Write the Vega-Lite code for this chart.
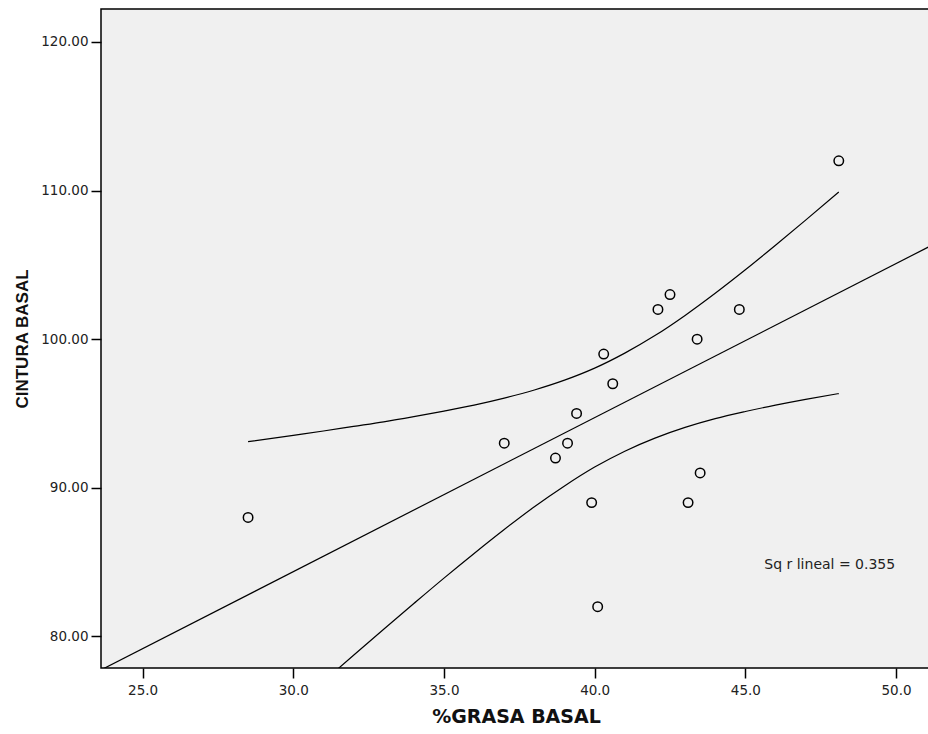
{
  "$schema": "https://vega.github.io/schema/vega-lite/v6.json",
  "width": 830,
  "height": 659,
  "autosize": {"type": "none"},
  "padding": {"left": 101, "top": 9, "right": 0, "bottom": 66},
  "background": "white",
  "config": {
    "font": "DejaVu Sans",
    "view": {"fill": "#f0f0f0", "stroke": "#000000", "strokeWidth": 1.5},
    "axis": {
      "domain": false,
      "grid": false,
      "ticks": true,
      "tickColor": "#000000",
      "tickWidth": 1.5,
      "tickSize": 10,
      "labelFont": "DejaVu Sans",
      "labelFontSize": 13.5,
      "labelColor": "#222222",
      "titleFontWeight": "bold",
      "titleColor": "#111111"
    }
  },
  "datasets": {
    "puntos": [
      {"grasa": 28.5, "cintura": 88},
      {"grasa": 37.0, "cintura": 93},
      {"grasa": 38.7, "cintura": 92},
      {"grasa": 39.1, "cintura": 93},
      {"grasa": 39.4, "cintura": 95},
      {"grasa": 39.9, "cintura": 89},
      {"grasa": 40.1, "cintura": 82},
      {"grasa": 40.3, "cintura": 99},
      {"grasa": 40.6, "cintura": 97},
      {"grasa": 42.1, "cintura": 102},
      {"grasa": 42.5, "cintura": 103},
      {"grasa": 43.4, "cintura": 100},
      {"grasa": 43.1, "cintura": 89},
      {"grasa": 43.5, "cintura": 91},
      {"grasa": 44.8, "cintura": 102},
      {"grasa": 48.1, "cintura": 112}
    ],
    "ajuste": [
      {"grasa": 23.62, "cintura": 77.74},
      {"grasa": 51.16, "cintura": 106.29}
    ],
    "superior": [
      {"grasa": 28.5, "cintura": 93.10},
      {"grasa": 30, "cintura": 93.53},
      {"grasa": 31, "cintura": 93.82},
      {"grasa": 32, "cintura": 94.13},
      {"grasa": 33, "cintura": 94.44},
      {"grasa": 34, "cintura": 94.79},
      {"grasa": 35, "cintura": 95.16},
      {"grasa": 36, "cintura": 95.56},
      {"grasa": 37, "cintura": 96.03},
      {"grasa": 38, "cintura": 96.58},
      {"grasa": 39, "cintura": 97.24},
      {"grasa": 40, "cintura": 98.05},
      {"grasa": 41, "cintura": 99.06},
      {"grasa": 42, "cintura": 100.24},
      {"grasa": 43, "cintura": 101.60},
      {"grasa": 44, "cintura": 103.09},
      {"grasa": 45, "cintura": 104.67},
      {"grasa": 46, "cintura": 106.32},
      {"grasa": 47, "cintura": 108.01},
      {"grasa": 48.1, "cintura": 109.90}
    ],
    "inferior": [
      {"grasa": 28.5, "cintura": 72.50},
      {"grasa": 30, "cintura": 75.19},
      {"grasa": 31, "cintura": 76.96},
      {"grasa": 32, "cintura": 78.73},
      {"grasa": 33, "cintura": 80.48},
      {"grasa": 34, "cintura": 82.21},
      {"grasa": 35, "cintura": 83.92},
      {"grasa": 36, "cintura": 85.58},
      {"grasa": 37, "cintura": 87.19},
      {"grasa": 38, "cintura": 88.72},
      {"grasa": 39, "cintura": 90.12},
      {"grasa": 40, "cintura": 91.39},
      {"grasa": 41, "cintura": 92.46},
      {"grasa": 42, "cintura": 93.34},
      {"grasa": 43, "cintura": 94.06},
      {"grasa": 44, "cintura": 94.65},
      {"grasa": 45, "cintura": 95.13},
      {"grasa": 46, "cintura": 95.56},
      {"grasa": 47, "cintura": 95.95},
      {"grasa": 48.1, "cintura": 96.34}
    ],
    "nota": [
      {"grasa": 47.8, "cintura": 84.78, "texto": "Sq r lineal = 0.355"}
    ]
  },
  "encoding": {
    "x": {
      "field": "grasa",
      "type": "quantitative",
      "scale": {"domain": [23.62, 51.16], "nice": false, "zero": false},
      "axis": {
        "values": [25, 30, 35, 40, 45, 50],
        "format": ".1f",
        "labelPadding": 5,
        "title": "%GRASA BASAL",
        "titleFont": "DejaVu Sans",
        "titleFontSize": 19,
        "titlePadding": 11
      }
    },
    "y": {
      "field": "cintura",
      "type": "quantitative",
      "scale": {"domain": [77.87, 122.22], "nice": false, "zero": false},
      "axis": {
        "values": [80, 90, 100, 110, 120],
        "format": ".2f",
        "labelPadding": 3,
        "title": "CINTURA BASAL",
        "titleFont": "Liberation Sans",
        "titleFontSize": 17,
        "titlePadding": 9
      }
    }
  },
  "layer": [
    {
      "data": {"name": "ajuste"},
      "mark": {"type": "line", "clip": true, "color": "#000000", "strokeWidth": 1.2}
    },
    {
      "data": {"name": "superior"},
      "mark": {"type": "line", "clip": true, "interpolate": "monotone", "color": "#000000", "strokeWidth": 1.2}
    },
    {
      "data": {"name": "inferior"},
      "mark": {"type": "line", "clip": true, "interpolate": "monotone", "color": "#000000", "strokeWidth": 1.2}
    },
    {
      "data": {"name": "puntos"},
      "mark": {"type": "point", "shape": "circle", "filled": false, "size": 90, "stroke": "#000000", "strokeWidth": 1.5, "opacity": 1}
    },
    {
      "data": {"name": "nota"},
      "mark": {"type": "text", "align": "center", "baseline": "middle", "fontSize": 14, "color": "#222222", "font": "DejaVu Sans"},
      "encoding": {"text": {"field": "texto", "type": "nominal"}}
    }
  ]
}
